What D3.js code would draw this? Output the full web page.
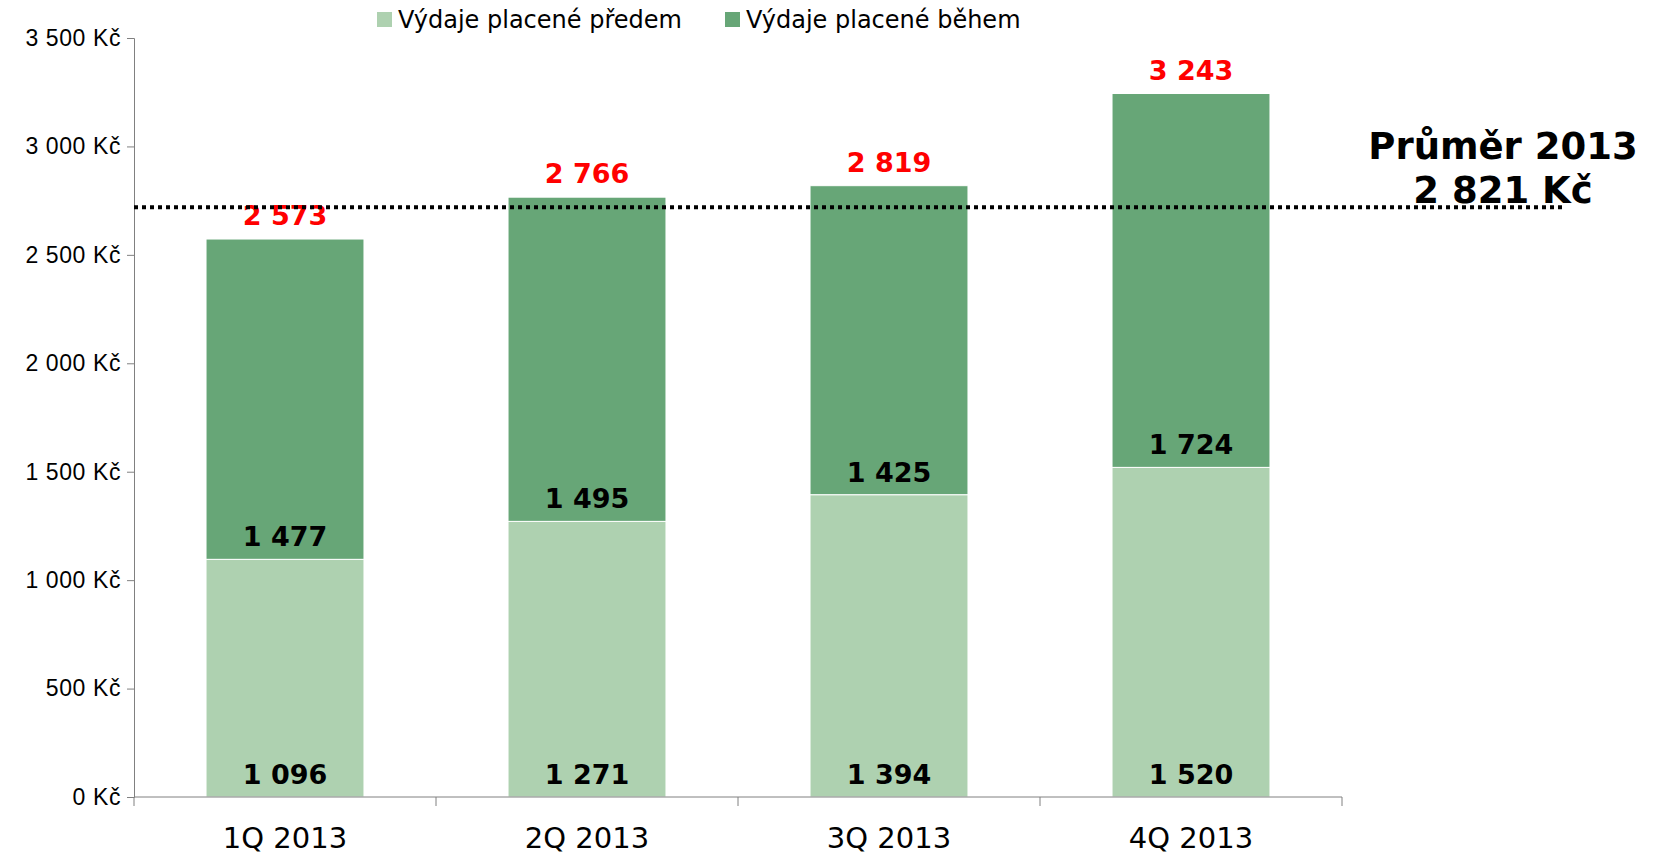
<!DOCTYPE html>
<meta charset="utf-8">
<script src="https://d3js.org/d3.v7.min.js"></script>
<style>
  body { margin: 0; background: #fff; font-family: Verdana, "DejaVu Sans", sans-serif; }
  .axis path, .axis line { stroke: #808080; }
  .axis text { fill: #000; }
</style>
<body>
<div id="my_dataviz"></div>
<script>

// data
var quarters = ["1Q 2013", "2Q 2013", "3Q 2013", "4Q 2013"];
var paidBefore = [1096, 1271, 1394, 1520];
var paidDuring = [1477, 1495, 1425, 1724];
var totals = [2573, 2766, 2819, 3243];
var seriesNames = ["Výdaje placené předem", "Výdaje placené během"];
var yTicks = [0, 500, 1000, 1500, 2000, 2500, 3000, 3500];
var avgLabel = ["Průměr 2013", "2 821 Kč"];
var avgLineValue = 2720; // where the dotted line actually sits

var colors = ["#aed1b0", "#67a677"];

var W = 1658, H = 854;
var margin = {top: 38, right: 316, bottom: 57, left: 134},
    width = W - margin.left - margin.right,
    height = H - margin.top - margin.bottom;

var loc = d3.formatLocale({decimal: ",", thousands: "\u00a0", grouping: [3], currency: ["", " Kč"]});
var fmt = loc.format(",d");

var svg = d3.select("#my_dataviz")
  .append("svg")
    .attr("width", W)
    .attr("height", H)
  .append("g")
    .attr("transform", "translate(" + margin.left + "," + margin.top + ")");

var x = d3.scaleBand()
    .domain(quarters)
    .range([0, width])
    .paddingInner(0.477)
    .paddingOuter(0.2385);

var y = d3.scaleLinear()
    .domain([0, 3500])
    .range([height, 0]);

// stacked bars
var rows = quarters.map(function(q, i) {
  return {q: q, before: paidBefore[i], during: paidDuring[i], total: totals[i]};
});
var stack = d3.stack().keys(["before", "during"])(rows);

var layers = svg.selectAll(".layer")
  .data(stack)
  .enter().append("g")
    .attr("fill", function(d, i) { return colors[i]; });

layers.selectAll("rect")
  .data(function(d) { return d; })
  .enter().append("rect")
    .attr("x", function(d) { return x(d.data.q); })
    .attr("width", x.bandwidth())
    .attr("y", function(d) { return y(d[1]); })
    .attr("height", function(d) { return y(d[0]) - y(d[1]); })
    .attr("stroke", "#fff")
    .attr("stroke-width", 1);

// segment value labels, sitting just above each segment base
layers.selectAll("text")
  .data(function(d) { return d; })
  .enter().append("text")
    .attr("x", function(d) { return x(d.data.q) + x.bandwidth() / 2; })
    .attr("y", function(d) { return y(d[0]) - 13; })
    .attr("text-anchor", "middle")
    .style("font-size", "27px")
    .style("font-weight", "bold")
    .style("fill", "#000")
    .text(function(d) { return fmt(d[1] - d[0]); });

// totals in red
svg.selectAll(".total")
  .data(rows)
  .enter().append("text")
    .attr("x", function(d) { return x(d.q) + x.bandwidth() / 2; })
    .attr("y", function(d) { return y(d.total) - 14; })
    .attr("text-anchor", "middle")
    .style("font-size", "27px")
    .style("font-weight", "bold")
    .style("fill", "#ff0000")
    .text(function(d) { return fmt(d.total); });

// Y axis
svg.append("g")
    .attr("class", "axis")
    .call(d3.axisLeft(y).tickValues(yTicks).tickSizeOuter(0).tickSize(7).tickPadding(6)
      .tickFormat(function(d) { return fmt(d) + " Kč"; }))
    .selectAll("text")
    .style("font-size", "23px")
    .style("letter-spacing", "0.6px");

// X axis: ticks at band boundaries
var xAxis = svg.append("g")
    .attr("class", "axis")
    .attr("transform", "translate(0," + height + ")");
xAxis.append("line")
    .attr("x1", 0).attr("x2", width)
    .attr("stroke", "#808080");
xAxis.selectAll(".tk")
  .data(d3.range(quarters.length + 1))
  .enter().append("line")
    .attr("x1", function(i) { return i * x.step(); })
    .attr("x2", function(i) { return i * x.step(); })
    .attr("y1", 0).attr("y2", 9)
    .attr("stroke", "#808080");
xAxis.selectAll(".lbl")
  .data(quarters)
  .enter().append("text")
    .attr("x", function(d) { return x(d) + x.bandwidth() / 2; })
    .attr("y", 51)
    .attr("text-anchor", "middle")
    .style("font-size", "29px")
    .text(function(d) { return d; });

// dotted average line
svg.append("line")
    .attr("x1", 0)
    .attr("x2", width + 221)
    .attr("y1", y(avgLineValue))
    .attr("y2", y(avgLineValue))
    .attr("stroke", "#000")
    .attr("stroke-width", 4)
    .attr("stroke-dasharray", "4,4");

svg.selectAll(".avg")
  .data(avgLabel)
  .enter().append("text")
    .attr("x", width + 161)
    .attr("y", function(d, i) { return 121 + i * 44; })
    .attr("text-anchor", "middle")
    .style("font-size", "37px")
    .style("font-weight", "bold")
    .text(function(d) { return d; });

// legend
var legend = svg.append("g")
    .attr("transform", "translate(" + (377 - margin.left) + "," + (-margin.top) + ")");
var lx = [0, 348];
seriesNames.forEach(function(n, i) {
  legend.append("rect")
    .attr("x", lx[i]).attr("y", 12)
    .attr("width", 15).attr("height", 15)
    .attr("fill", colors[i]);
  legend.append("text")
    .attr("x", lx[i] + 21).attr("y", 28)
    .style("font-size", "24px")
    .text(n);
});

</script>
</body>
